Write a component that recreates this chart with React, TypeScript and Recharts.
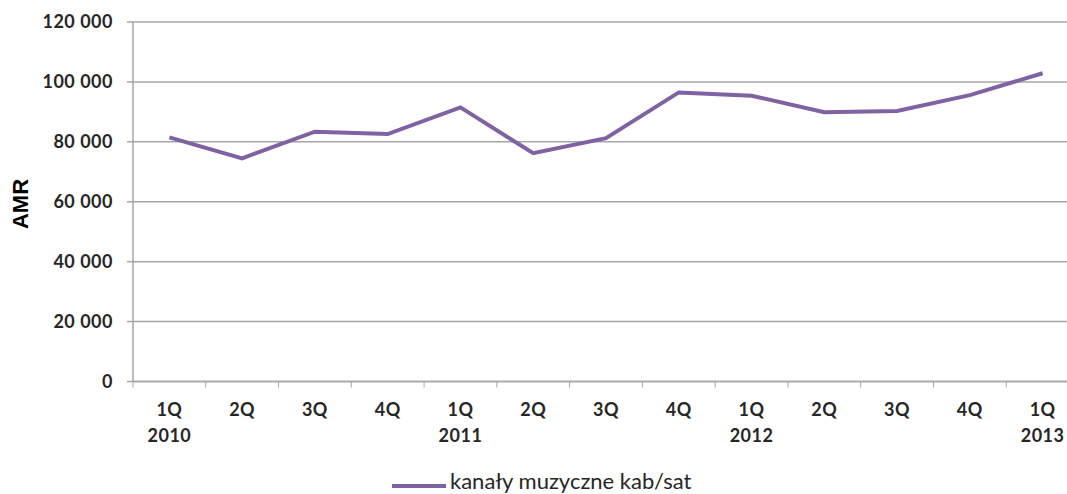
import React from "react";
import { LineChart, Line, XAxis, YAxis, CartesianGrid } from "recharts";

const quarters = ["1Q", "2Q", "3Q", "4Q", "1Q", "2Q", "3Q", "4Q", "1Q", "2Q", "3Q", "4Q", "1Q"];
const years = ["2010", "", "", "", "2011", "", "", "", "2012", "", "", "", "2013"];
const amrValues = [81500, 74500, 83400, 82600, 91500, 76200, 81200, 96500, 95400, 89900, 90300, 95600, 102900];
const yTicks = [0, 20000, 40000, 60000, 80000, 100000, 120000];
const seriesName = "kanały muzyczne kab/sat";

const data = amrValues.map((v, i) => ({ idx: i, amr: v }));

// label ticks at category centers, tick marks at band edges
const xTicks: number[] = [];
for (let i = 0; i < quarters.length; i++) {
    xTicks.push(i - 0.5);
    xTicks.push(i);
}

const GRID = "#A6A6A6";
const TEXT = "#262626";
const LINE = "#7F62A1";
const FONT = "Lato, 'Open Sans', sans-serif";

const fmt = (v: number) => {
    if (v === 0) return "0";
    const s = String(v);
    return s.slice(0, s.length - 3) + " " + s.slice(-3);
};

function XTick(props: any) {
    const { x, y, payload } = props;
    const v = payload.value as number;
    if (!Number.isInteger(v)) {
        return <line x1={x} y1={y} x2={x} y2={y + 6} stroke={GRID} strokeWidth={1} />;
    }
    const textProps = {
        textAnchor: "middle" as const,
        fill: TEXT,
        fontSize: 18,
        fontWeight: 700,
        fontFamily: FONT,
        letterSpacing: 0.5,
    };
    return (
        <g>
            <text x={x} y={y + 34.5} {...textProps}>
                {quarters[v]}
            </text>
            {years[v] && (
                <text x={x} y={y + 60} {...textProps}>
                    {years[v]}
                </text>
            )}
        </g>
    );
}

export default function App() {
    return (
        <div style={{ position: "absolute", left: 0, top: 0, width: 1067, height: 494, background: "#fff", overflow: "hidden" }}>
            <LineChart width={1067} height={494} data={data} margin={{ top: 22, right: 0, left: 0, bottom: 52.5 }}>
                <CartesianGrid vertical={false} stroke={GRID} strokeWidth={1.5} />
                <XAxis
                    dataKey="idx"
                    type="number"
                    domain={[-0.5, 12.335]}
                    ticks={xTicks}
                    interval={0}
                    allowDataOverflow
                    height={60}
                    tickSize={0}
                    tickMargin={0}
                    tickLine={false}
                    axisLine={{ stroke: GRID, strokeWidth: 1.5 }}
                    tick={<XTick />}
                />
                <YAxis
                    width={133}
                    domain={[0, 120000]}
                    ticks={yTicks}
                    interval={0}
                    tickFormatter={fmt}
                    tickSize={6}
                    tickMargin={14}
                    axisLine={{ stroke: GRID, strokeWidth: 1.5 }}
                    tickLine={{ stroke: GRID, strokeWidth: 1.5 }}
                    tick={{ fill: TEXT, fontSize: 18, fontWeight: 700, fontFamily: FONT, letterSpacing: 0.5 }}
                    label={{
                        content: () => (
                            <text
                                x={0}
                                y={0}
                                transform="translate(28 204) rotate(-90)"
                                textAnchor="middle"
                                fill="#000"
                                fontSize={22}
                                fontWeight={700}
                                fontFamily="'Liberation Sans', Arial, sans-serif"
                            >
                                AMR
                            </text>
                        ),
                    }}
                />
                <Line
                    type="linear"
                    dataKey="amr"
                    name={seriesName}
                    stroke={LINE}
                    strokeWidth={4}
                    dot={false}
                    isAnimationActive={false}
                />
            </LineChart>
            <svg width={1067} height={494} style={{ position: "absolute", left: 0, top: 0, pointerEvents: "none" }}>
                <line x1={392} y1={486} x2={446} y2={486} stroke={LINE} strokeWidth={4} />
                <text x={450} y={489} fill={TEXT} fontSize={22} fontFamily={FONT}>
                    {seriesName}
                </text>
            </svg>
        </div>
    );
}
